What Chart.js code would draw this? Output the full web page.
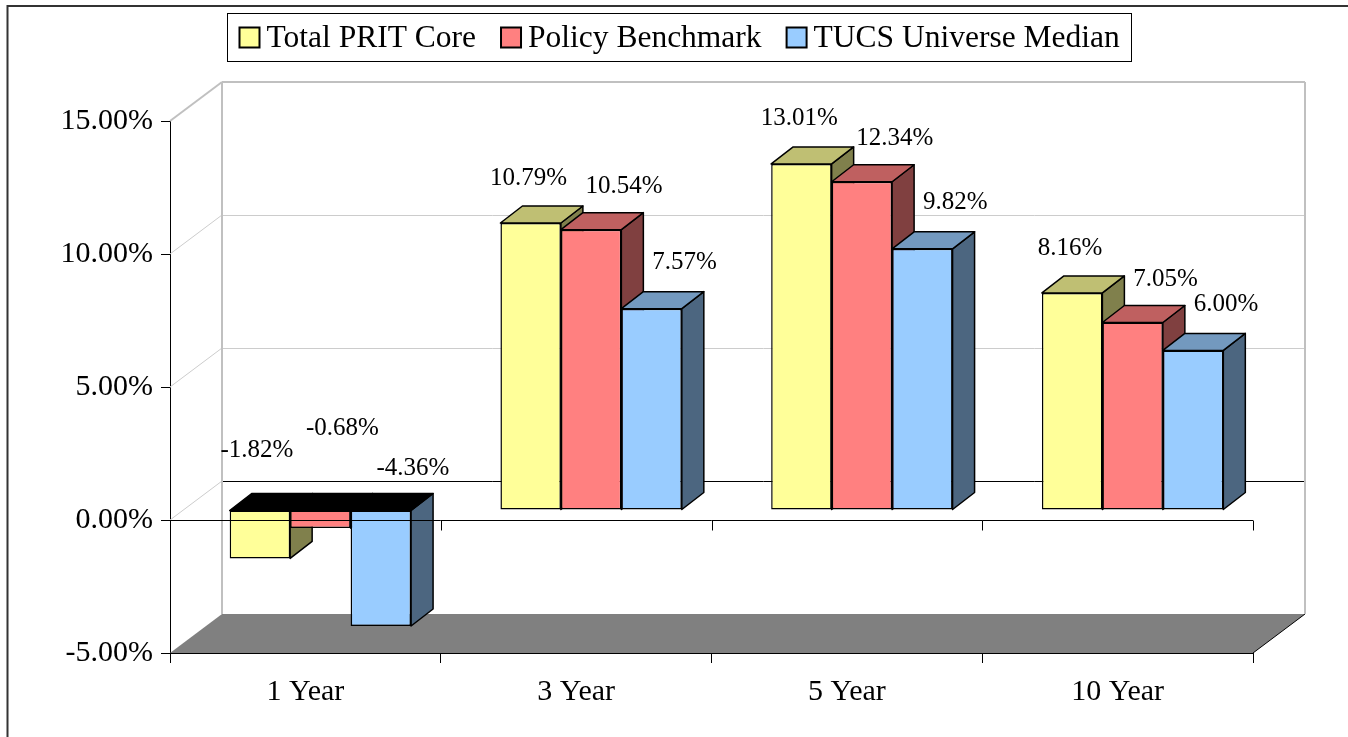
<!DOCTYPE html>
<html>
<head>
<meta charset="utf-8">
<title>PRIT Core returns</title>
<script src="https://cdn.jsdelivr.net/npm/chart.js@4.4.1/dist/chart.umd.min.js"></script>
<style>
  html, body { margin: 0; padding: 0; background: #fff; }
  canvas { display: block; }
</style>
</head>
<body>
<canvas id="myChart" width="1348" height="737"></canvas>
<script>
// data
const categories = ["1 Year", "3 Year", "5 Year", "10 Year"];
const seriesNames = ["Total PRIT Core", "Policy Benchmark", "TUCS Universe Median"];
const totalPritCore = [-1.82, 10.79, 13.01, 8.16];
const policyBenchmark = [-0.68, 10.54, 12.34, 7.05];
const tucsMedian = [-4.36, 7.57, 9.82, 6.0];
const yTicks = [-5, 0, 5, 10, 15];

// 3d look
const DEPTH = { x: 52, y: -39 };      // back wall offset
const BAR_SHIFT = { x: 15, y: -10 };  // bar fronts sit a bit behind the front plane
const BAR_DEPTH = { x: 22, y: -17 };
// label offsets from the top of the front face (Excel scatters them a bit)
const LABEL_OFFSET = [{ x: -2, y: -45 }, { x: 33, y: -43 }, { x: 33, y: -46 }];
const LABEL_OFFSET_NEG = [{ x: -3, y: -60 }, { x: 22, y: -82 }, { x: 32, y: -42 }];

const faceColors = [
  { front: "#FFFF99", top: "#BFBF73", side: "#80804C" },
  { front: "#FF8080", top: "#BF6060", side: "#804040" },
  { front: "#99CCFF", top: "#7399BF", side: "#4C6680" }
];

const serif = '"Liberation Serif", "Times New Roman", serif';
Chart.defaults.font.family = serif;
Chart.defaults.color = "#000";

function poly(ctx, pts) {
  ctx.beginPath();
  ctx.moveTo(pts[0][0], pts[0][1]);
  for (let i = 1; i < pts.length; i++) ctx.lineTo(pts[i][0], pts[i][1]);
  ctx.closePath();
}
function line(ctx, x1, y1, x2, y2) {
  ctx.beginPath();
  ctx.moveTo(x1, y1);
  ctx.lineTo(x2, y2);
  ctx.stroke();
}
const snap = v => Math.round(v) + 0.5;

const threeD = {
  id: "threeD",
  beforeDatasetsDraw(chart) {
    const { ctx, chartArea: a, scales: { y } } = chart;
    const L = a.left, R = a.right, dx = DEPTH.x, dy = DEPTH.y;
    const yFloor = y.getPixelForValue(y.min);
    const yTop = y.getPixelForValue(y.max);
    ctx.save();

    // floor
    ctx.fillStyle = "#808080";
    poly(ctx, [[L, yFloor], [R, yFloor], [R + dx, yFloor + dy], [L + dx, yFloor + dy]]);
    ctx.fill();
    ctx.strokeStyle = "#000";
    ctx.lineWidth = 1;
    line(ctx, R, yFloor, R + dx, yFloor + dy);

    // gridlines on back and side wall
    yTicks.forEach(v => {
      if (v === y.min) return;
      const py = y.getPixelForValue(v);
      const edge = v === y.max;
      ctx.lineWidth = edge ? 2 : 1;
      ctx.strokeStyle = v === 0 ? "#000" : (edge ? "#c0c0c0" : "#cccccc");
      const by = edge ? Math.round(py + dy) : snap(py + dy);
      line(ctx, L + dx, by, R + dx, by);
      ctx.strokeStyle = edge ? "#c0c0c0" : "#cccccc";
      line(ctx, L, py, L + dx, py + dy);
    });

    // back wall edges
    ctx.strokeStyle = "#c0c0c0";
    ctx.lineWidth = 2;
    line(ctx, L + dx, yTop + dy, L + dx, yFloor + dy);
    line(ctx, R + dx, yTop + dy, R + dx, yFloor + dy);
    ctx.restore();
  },
  beforeDatasetDraw() {
    // bars are drawn below, category by category
    return false;
  },
  afterDatasetsDraw(chart) {
    const { ctx, chartArea: a, scales: { x, y } } = chart;
    const datasets = chart.data.datasets;
    ctx.save();
    ctx.lineJoin = "round";

    categories.forEach((c, i) => {
      datasets.forEach((ds, d) => {
        const el = chart.getDatasetMeta(d).data[i];
        const p = el.getProps(["x", "y", "base", "width"], true);
        const x0 = p.x - p.width / 2 + BAR_SHIFT.x;
        const x1 = p.x + p.width / 2 + BAR_SHIFT.x;
        const yt = Math.min(p.y, p.base) + BAR_SHIFT.y;
        const yb = Math.max(p.y, p.base) + BAR_SHIFT.y;
        const bx = BAR_DEPTH.x, by = BAR_DEPTH.y;
        ctx.strokeStyle = "#000";
        ctx.lineWidth = 1.5;
        // side face
        ctx.fillStyle = faceColors[d].side;
        poly(ctx, [[x1, yt], [x1 + bx, yt + by], [x1 + bx, yb + by], [x1, yb]]);
        ctx.fill();
        ctx.stroke();
        // top face (black when the bar hangs below zero)
        ctx.fillStyle = ds.data[i] < 0 ? "#000" : faceColors[d].top;
        poly(ctx, [[x0, yt], [x1, yt], [x1 + bx, yt + by], [x0 + bx, yt + by]]);
        ctx.fill();
        ctx.stroke();
        // front face, by the library
        ctx.save();
        ctx.translate(BAR_SHIFT.x, BAR_SHIFT.y);
        el.draw(ctx);
        ctx.restore();
      });
    });

    // zero line on the front plane, with ticks
    const y0 = snap(y.getPixelForValue(0));
    const half = (x.getPixelForValue(1) - x.getPixelForValue(0)) / 2;
    ctx.strokeStyle = "#000";
    ctx.lineWidth = 1;
    line(ctx, a.left, y0, a.right, y0);
    categories.forEach((c, i) => {
      const bx = snap(x.getPixelForValue(i) + half);
      line(ctx, bx, y0, bx, y0 + 10);
    });

    // value labels
    ctx.font = "25px " + serif;
    ctx.fillStyle = "#000";
    ctx.textAlign = "center";
    ctx.textBaseline = "middle";
    categories.forEach((c, i) => {
      datasets.forEach((ds, d) => {
        const el = chart.getDatasetMeta(d).data[i];
        const yt = Math.min(el.y, el.base) + BAR_SHIFT.y;
        const off = ds.data[i] < 0 ? LABEL_OFFSET_NEG[d] : LABEL_OFFSET[d];
        ctx.fillText(ds.data[i].toFixed(2) + "%", el.x + BAR_SHIFT.x + off.x, yt + off.y);
      });
    });
    ctx.restore();
  },
  afterDraw(chart) {
    const ctx = chart.ctx;
    const datasets = chart.data.datasets;
    ctx.save();

    // outer frame
    ctx.strokeStyle = "#333";
    ctx.lineWidth = 2;
    ctx.beginPath();
    ctx.moveTo(7.5, chart.height);
    ctx.lineTo(7.5, 6);
    ctx.lineTo(chart.width, 6);
    ctx.stroke();

    // legend
    const fontSize = 31.5, box = 20, gap = 7, sep = 25, pad = 12;
    ctx.font = fontSize + "px " + serif;
    const widths = datasets.map(ds => ctx.measureText(ds.label).width);
    const total = pad * 2 + widths.reduce((s, w) => s + w + box + gap, 0) + sep * (datasets.length - 1);
    const left = Math.round(679.5 - total / 2) + 0.5;
    const top = 13.5, h = 48;
    ctx.strokeStyle = "#000";
    ctx.lineWidth = 1;
    ctx.strokeRect(left, top, Math.round(total), h);
    let cx = left + pad;
    const cy = top + h / 2;
    ctx.textBaseline = "middle";
    ctx.textAlign = "left";
    datasets.forEach((ds, d) => {
      ctx.fillStyle = ds.backgroundColor;
      ctx.fillRect(cx, cy - box / 2, box, box);
      ctx.lineWidth = 2;
      ctx.strokeRect(cx, cy - box / 2, box, box);
      ctx.fillStyle = "#000";
      ctx.fillText(ds.label, cx + box + gap, cy + 1);
      cx += box + gap + widths[d] + sep;
    });
    ctx.restore();
  }
};

const ctx = document.getElementById("myChart").getContext("2d");
const seriesValues = [totalPritCore, policyBenchmark, tucsMedian];

const chart = new Chart(ctx, {
  type: "bar",
  data: {
    labels: categories,
    datasets: seriesValues.map((vals, d) => ({
      label: seriesNames[d],
      data: vals,
      backgroundColor: faceColors[d].front,
      borderColor: "#000",
      borderWidth: 1.5,
      borderSkipped: false,
      categoryPercentage: 0.67,
      barPercentage: 1.0
    }))
  },
  options: {
    responsive: false,
    animation: false,
    layout: { padding: { left: 0, right: 95, top: 121, bottom: 0 } },
    plugins: {
      legend: { display: false },
      tooltip: { enabled: false }
    },
    scales: {
      x: {
        offset: true,
        grid: { offset: true, drawOnChartArea: false, drawTicks: true, tickLength: 10, color: "#000" },
        border: { display: true, color: "#000", width: 1 },
        ticks: { font: { size: 30 }, padding: 11, color: "#000" },
        afterFit: s => { s.height = 84; }
      },
      y: {
        min: -5,
        max: 15,
        ticks: {
          stepSize: 5,
          font: { size: 30 },
          padding: 8,
          color: "#000",
          callback: v => v.toFixed(2) + "%"
        },
        grid: { drawOnChartArea: false, drawTicks: true, tickLength: 9, color: "#000" },
        border: { display: true, color: "#000", width: 1 },
        afterFit: s => { s.width = 170; }
      }
    }
  },
  plugins: [threeD]
});
</script>
</body>
</html>
